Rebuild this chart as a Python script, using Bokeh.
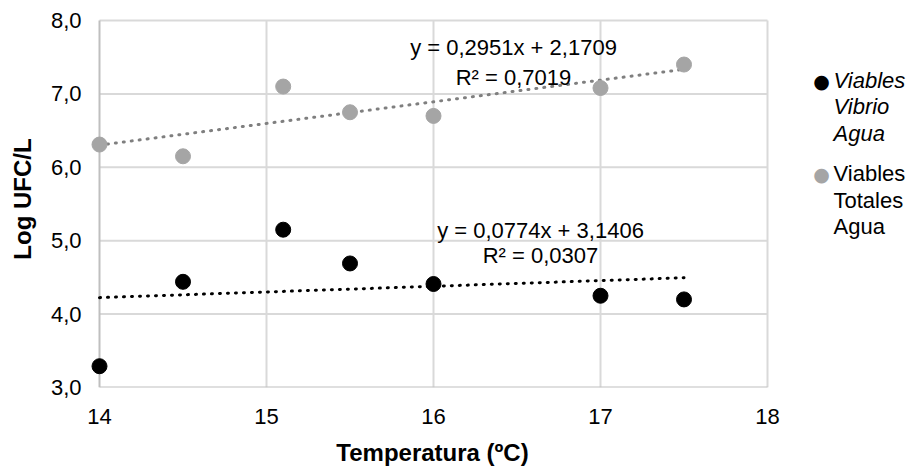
from bokeh.plotting import figure
from bokeh.layouts import row
from bokeh.models import Range1d, Label, CustomJSTickFormatter, FixedTicker
from bokeh.embed import file_html
from bokeh.resources import INLINE

# Data
temperatura = [14, 14.5, 15.1, 15.5, 16, 17, 17.5]
vibrio_agua = [3.29, 4.44, 5.15, 4.69, 4.41, 4.25, 4.20]
totales_agua = [6.31, 6.15, 7.10, 6.75, 6.70, 7.08, 7.40]

# Trendline coefficients (as printed on the chart)
vibrio_slope, vibrio_intercept, vibrio_r2 = 0.0774, 3.1406, 0.0307
totales_slope, totales_intercept, totales_r2 = 0.2951, 2.1709, 0.7019

x_ticks = [14, 15, 16, 17, 18]
y_ticks = [3, 4, 5, 6, 7, 8]

legend_vibrio = ["Viables", "Vibrio", "Agua"]
legend_totales = ["Viables", "Totales", "Agua"]

FONT = "Liberation Sans"
GRAY_PT = "#a5a5a5"
GRAY_TREND = "#7f7f7f"
GRID = "#d9d9d9"
AXIS = "#bfbfbf"

# Pixel geometry: x=14 at px 99, x=18 at px 767; y=8 at px 20, y=3 at px 387
PX_X = (767 - 99) / 4.0
PX_Y = (387 - 20) / 5.0
MAIN_W, H = 800, 468
LEG_W = 914 - MAIN_W
LEFT, RIGHT, TOP, BOTTOM = 88, 24, 10, 81
x0 = 14 - (99 - LEFT) / PX_X
x1 = x0 + (MAIN_W - LEFT - RIGHT) / PX_X
y1 = 8 + (20 - TOP) / PX_Y

p = figure(width=MAIN_W, height=H, output_backend="svg", toolbar_location=None,
           x_range=Range1d(x0, x1), y_range=Range1d(3, y1),
           min_border_left=LEFT, min_border_right=RIGHT, min_border_top=TOP, min_border_bottom=BOTTOM)
p.background_fill_color = "white"
p.border_fill_color = "white"
p.outline_line_color = None
p.grid.visible = False

for ax in (p.xaxis[0], p.yaxis[0]):
    ax.axis_line_color = None
    ax.major_tick_line_color = None
    ax.minor_tick_line_color = None
    ax.major_tick_out = 0
    ax.major_tick_in = 0
    ax.major_label_text_font = FONT
    ax.major_label_text_font_size = "22px"
    ax.major_label_text_color = "#000000"
    ax.axis_label_text_font = FONT
    ax.axis_label_text_font_size = "24px"
    ax.axis_label_text_font_style = "bold"
    ax.axis_label_text_color = "#000000"

p.xaxis.ticker = FixedTicker(ticks=x_ticks)
p.yaxis.ticker = FixedTicker(ticks=y_ticks)
p.yaxis.formatter = CustomJSTickFormatter(code="return tick.toFixed(1).replace('.', ',');")
p.xaxis.axis_label = "Temperatura (ºC)"
p.yaxis.axis_label = "Log UFC/L"
p.xaxis.major_label_standoff = 21
p.yaxis.major_label_standoff = 7
p.xaxis.axis_label_standoff = 12
p.yaxis.axis_label_standoff = 12

# Grid (bounded to the plot box) and axis lines
xmin, xmax = x_ticks[0], x_ticks[-1]
ymin, ymax = y_ticks[0], y_ticks[-1]
p.segment(x0=x_ticks[1:], y0=[ymin] * (len(x_ticks) - 1), x1=x_ticks[1:], y1=[ymax] * (len(x_ticks) - 1),
          line_color=GRID, line_width=2)
p.segment(x0=[xmin] * (len(y_ticks) - 1), y0=y_ticks[1:], x1=[xmax] * (len(y_ticks) - 1), y1=y_ticks[1:],
          line_color=GRID, line_width=2)
p.segment(x0=[xmin, xmin], y0=[ymin, ymin], x1=[xmin, xmax], y1=[ymax, ymin],
          line_color=AXIS, line_width=2)

# Trendlines
tx = [min(temperatura), max(temperatura)]
p.line(tx, [totales_slope * v + totales_intercept for v in tx], line_color=GRAY_TREND,
       line_width=3, line_dash="1 7", line_cap="round")
p.line(tx, [vibrio_slope * v + vibrio_intercept for v in tx], line_color="#000000",
       line_width=3, line_dash="1 7", line_cap="round")

# Points
p.scatter(temperatura, totales_agua, size=15, color=GRAY_PT, line_color=GRAY_PT)
p.scatter(temperatura, vibrio_agua, size=15, color="#000000", line_color="#000000")

def fmt(v):
    return f"{v:.4f}".replace(".", ",")

def sx(px):
    return 14 + (px - 99) / PX_X

def sy(px):
    return 8 - (px - 20) / PX_Y

def add_text(fig, x, y, t, style="normal", align="center", color="#000000", size="22px", font=FONT):
    fig.add_layout(Label(x=x, y=y, text=t, text_font=font, text_font_size=size,
                         text_align=align, text_baseline="middle", text_color=color,
                         text_font_style=style))

add_text(p, sx(513), sy(47), f"y = {fmt(totales_slope)}x + {fmt(totales_intercept)}")
add_text(p, sx(513), sy(77), f"R² = {fmt(totales_r2)}")
add_text(p, sx(540), sy(230), f"y = {fmt(vibrio_slope)}x + {fmt(vibrio_intercept)}")
add_text(p, sx(540), sy(255), f"R² = {fmt(vibrio_r2)}")

# Legend panel: its frame is aligned with the main frame (px TOP .. H-BOTTOM), y downward
lg = figure(width=LEG_W, height=H, output_backend="svg", toolbar_location=None,
            x_range=Range1d(0, LEG_W), y_range=Range1d(H - BOTTOM, TOP),
            x_axis_type=None, y_axis_type=None,
            min_border_left=0, min_border_right=0, min_border_top=TOP, min_border_bottom=BOTTOM)
lg.outline_line_color = None
lg.grid.visible = False
lg.background_fill_color = "white"
lg.border_fill_color = "white"

add_text(lg, 21, 80, "●", size="19px", font="DejaVu Sans")
add_text(lg, 21, 173, "●", size="19px", font="DejaVu Sans", color=GRAY_PT)
for yy, t in zip([80, 106, 133], legend_vibrio):
    add_text(lg, 33, yy, t, style="italic", align="left")
for yy, t in zip([173, 200, 226], legend_totales):
    add_text(lg, 33, yy, t, align="left")

layout = row(p, lg, spacing=0)
open("out.html", "w").write(file_html(layout, INLINE))
